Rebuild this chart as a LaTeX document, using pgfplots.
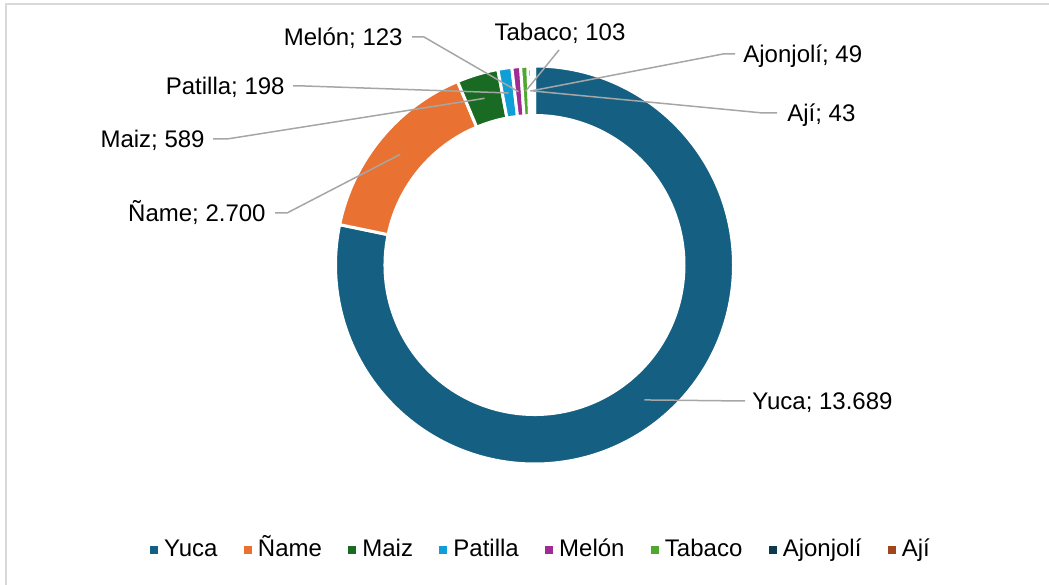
\documentclass[border=0pt]{standalone}
\usepackage{fontspec}
\setmainfont{Liberation Sans}
\usepackage{pgfplots}
\usepackage{pgfplotstable}
\pgfplotsset{compat=1.18}

\definecolor{cYuca}{HTML}{156082}
\definecolor{cName}{HTML}{E97132}
\definecolor{cMaiz}{HTML}{196B24}
\definecolor{cPat}{HTML}{0F9ED5}
\definecolor{cMel}{HTML}{A02B93}
\definecolor{cTab}{HTML}{4EA72E}
\definecolor{cAjo}{HTML}{0D3A4E}
\definecolor{cAji}{HTML}{A0461C}
\definecolor{cLeader}{HTML}{A6A6A6}
\definecolor{cFrame}{HTML}{D9D9D9}

\pgfkeys{/pgf/number format/.cd, 1000 sep={.}, assume math mode=true}

% label position in px (ly = middle of the text), leader start (sx,sy), elbow x
\pgfplotstableread[col sep=comma]{
name,value,col,lx,ly,anc,sx,sy,ex
Yuca,13689,cYuca,752,401,base west,745,401,745
Ñame,2700,cName,266,213,base east,275,213,287
Maiz,589,cMaiz,205,139,base east,213,139,227
Patilla,198,cPat,285,86,base east,293,86,305
Melón,123,cMel,403,37,base east,412,37,424
Tabaco,103,cTab,560,32,base,559,50,559
Ajonjolí,49,cAjo,743,54,base west,735,54,723
Ají,43,cAji,787,113,base west,777,113,763
}\crops

\begin{document}
\begin{tikzpicture}[font=\fontsize{12}{14}\selectfont]
\begin{axis}[
  hide axis, scale only axis,
  width=524.5pt, height=292pt,
  xmin=0, xmax=1049, ymin=0, ymax=584,
  sq/.style={legend image code/.code={\fill[##1] (0pt,-2pt) rectangle (4pt,2pt);}},
  legend columns=8,
  legend style={
    at={(0.5148,0.058)}, anchor=center,
    draw=none, fill=none,
    font=\fontsize{12}{14}\selectfont,
    nodes={inner sep=0pt, text height=8.6pt, text depth=2.6pt},
    /tikz/every odd column/.style={column sep=3pt},
    /tikz/every even column/.style={column sep=13.2pt}
  }
]
\addlegendimage{sq, fill=cYuca, draw=none}\addlegendentry{Yuca}
\addlegendimage{sq, fill=cName, draw=none}\addlegendentry{Ñame}
\addlegendimage{sq, fill=cMaiz, draw=none}\addlegendentry{Maiz}
\addlegendimage{sq, fill=cPat, draw=none}\addlegendentry{Patilla}
\addlegendimage{sq, fill=cMel, draw=none}\addlegendentry{Melón}
\addlegendimage{sq, fill=cTab, draw=none}\addlegendentry{Tabaco}
\addlegendimage{sq, fill=cAjo, draw=none}\addlegendentry{Ajonjolí}
\addlegendimage{sq, fill=cAji, draw=none}\addlegendentry{Ají}
\coordinate (o) at (axis cs:0,584);
\coordinate (c) at (axis cs:534.5,319);
\end{axis}

% total (in hundreds, to stay inside pgfmath range)
\xdef\tot{0}
\foreach \i in {0,...,7}{
  \pgfplotstablegetelem{\i}{value}\of\crops
  \pgfmathsetmacro\tmp{\tot+\pgfplotsretval/100}\xdef\tot{\tmp}
}

% ring, clockwise from the top
\begin{scope}[shift={(c)}]
\xdef\cum{0}
\foreach \i in {0,...,7}{
  \pgfplotstablegetelem{\i}{value}\of\crops
  \pgfmathsetmacro\v{\pgfplotsretval/100}
  \pgfplotstablegetelem{\i}{col}\of\crops\let\col\pgfplotsretval
  \pgfmathsetmacro\sa{90-\cum/\tot*360}
  \pgfmathsetmacro\ea{90-(\cum+\v)/\tot*360}
  \pgfmathsetmacro\ma{(\sa+\ea)/2}
  \filldraw[fill=\col, draw=white, line width=1.5pt]
    (\sa:99.5pt) arc[start angle=\sa, end angle=\ea, radius=99.5pt]
    -- (\ea:74.75pt) arc[start angle=\ea, end angle=\sa, radius=74.75pt] -- cycle;
  \coordinate (m\i) at (\ma:87pt);
  \pgfmathsetmacro\tmp{\cum+\v}\xdef\cum{\tmp}
}
\end{scope}

% data labels with leader lines, in pixel coordinates
\begin{scope}[shift={(o)}, x=0.5pt, y=-0.5pt]
\draw[cFrame, line width=0.75pt] (6,600) -- (6,4) -- (1060,4);
\foreach \i in {0,...,7}{
  \pgfplotstablegetelem{\i}{name}\of\crops\let\nm\pgfplotsretval
  \pgfplotstablegetelem{\i}{value}\of\crops\let\val\pgfplotsretval
  \pgfplotstablegetelem{\i}{lx}\of\crops\let\lx\pgfplotsretval
  \pgfplotstablegetelem{\i}{ly}\of\crops\let\ly\pgfplotsretval
  \pgfplotstablegetelem{\i}{anc}\of\crops\let\anc\pgfplotsretval
  \pgfplotstablegetelem{\i}{sx}\of\crops\let\sx\pgfplotsretval
  \pgfplotstablegetelem{\i}{sy}\of\crops\let\sy\pgfplotsretval
  \pgfplotstablegetelem{\i}{ex}\of\crops\let\ex\pgfplotsretval
  \draw[cLeader, line width=0.75pt] (\sx,\sy) -- (\ex,\sy) -- (m\i);
  \node[anchor=\anc, inner sep=0pt] at (\lx,{\ly+8.6}) {\nm; \pgfmathprintnumber{\val}};
}
\end{scope}

\pgfresetboundingbox
\path[use as bounding box] (o) rectangle ++(524.5pt,-292pt);
\end{tikzpicture}
\end{document}
